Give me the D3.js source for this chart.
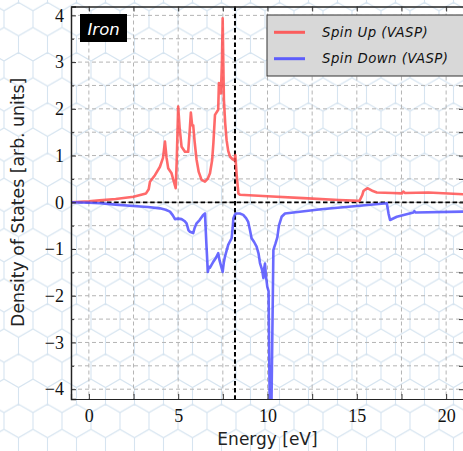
<!DOCTYPE html>
<html>
<head>
<meta charset="utf-8">
<script src="https://cdn.jsdelivr.net/npm/d3@7"></script>
<style>
  body { margin: 0; background: #fff; }
  .axis path { stroke: #222; }
  .axis line { stroke: #333; }
  .axis text { font-family: "Liberation Serif", serif; font-size: 18px; fill: #111; }
</style>
</head>
<body>
<svg id="chart"></svg>
<script>
// DOS of bcc iron, spin resolved

var title = "Iron",
    xlabel = "Energy [eV]",
    ylabel = "Density of States [arb. units]",
    seriesNames = ["Spin Up (VASP)", "Spin Down (VASP)"],
    fermiEnergy = 8.18 ;

var xMajorTicks = [0, 5, 10, 15, 20],
    xMinorTicks = [2.5, 7.5, 12.5, 17.5],
    yMajorTicks = [-4, -3, -2, -1, 0, 1, 2, 3, 4],
    yMinorTicks = [-3.5, -2.5, -1.5, -0.5, 0.5, 1.5, 2.5, 3.5] ;

var energyUp = [-1.0, -0.5, 0.0, 0.6, 1.5, 2.5, 3.2, 3.35, 3.42, 3.7, 3.98, 4.15, 4.26, 4.35, 4.44, 4.63, 4.75, 4.86,
                4.92, 5.0, 5.08, 5.19, 5.38, 5.56, 5.64, 5.71, 5.78, 5.84, 5.92, 6.03, 6.15, 6.31, 6.5, 6.65, 6.78, 6.9,
                6.97, 7.06, 7.24, 7.28, 7.33, 7.39, 7.45, 7.49, 7.53, 7.56, 7.63, 7.71, 7.8, 7.9, 8.05, 8.15, 8.2, 8.27,
                8.37, 8.46, 10.0, 12.0, 14.0, 15.15, 15.3, 15.37, 15.5, 15.62, 15.9, 16.12, 17.0, 17.52, 17.6, 17.7,
                19.0, 21.0] ;
var dosUp = [0.0, 0.01, 0.02, 0.04, 0.07, 0.12, 0.19, 0.28, 0.44, 0.58, 0.76, 0.95, 1.3, 0.95, 0.73, 0.62, 0.45, 0.3,
             0.9, 2.05, 1.6, 1.19, 1.08, 1.08, 1.5, 1.92, 1.65, 1.65, 1.3, 0.91, 0.65, 0.48, 0.44, 0.5, 0.62, 0.9,
             1.26, 1.87, 1.98, 2.55, 2.45, 2.33, 3.0, 3.94, 2.9, 2.19, 1.7, 1.33, 1.1, 0.98, 0.92, 0.9, 1.01, 0.6,
             0.19, 0.16, 0.13, 0.09, 0.05, 0.03, 0.15, 0.24, 0.28, 0.3, 0.24, 0.21, 0.2, 0.19, 0.23, 0.2,
             0.21, 0.17] ;

var energyDown = [-1.0, 0.0, 0.62, 1.5, 2.48, 3.3, 3.98, 4.3, 4.54, 4.7, 4.82, 5.0, 5.19, 5.35, 5.47, 5.58, 5.66, 5.84,
                  5.92, 6.03, 6.2, 6.4, 6.5, 6.58, 6.66, 6.72, 6.78, 6.97, 7.1, 7.24, 7.32, 7.49, 7.55, 7.62, 7.8, 7.99,
                  8.05, 8.09, 8.18, 8.27, 8.45, 8.64, 8.8, 8.92, 9.02, 9.11, 9.25, 9.39, 9.5, 9.58, 9.7, 9.77, 9.82,
                  9.86, 9.92, 9.99, 10.06, 10.14, 10.2, 10.33, 10.45, 10.55, 10.64, 10.79, 10.98, 13.0, 15.0, 16.68,
                  16.78, 16.86, 17.24, 18.17, 18.22, 18.3, 21.0] ;
var dosDown = [0.0, -0.01, -0.02, -0.05, -0.08, -0.1, -0.13, -0.16, -0.2, -0.28, -0.36, -0.35, -0.36, -0.4, -0.45, -0.6,
               -0.63, -0.66, -0.55, -0.45, -0.38, -0.27, -0.24, -0.9, -1.49, -1.38, -1.4, -1.27, -1.2, -1.09, -1.25,
               -1.49, -1.3, -1.16, -0.91, -0.77, -0.55, -0.34, -0.26, -0.24, -0.24, -0.27, -0.34, -0.42, -0.6, -0.77,
               -0.85, -0.95, -1.1, -1.3, -1.45, -1.62, -1.4, -1.31, -1.6, -1.81, -1.9, -5.0, -5.0, -1.02, -0.88,
               -0.75, -0.5, -0.31, -0.24, -0.15, -0.08, -0.02, -0.25, -0.38, -0.31, -0.22, -0.19, -0.22, -0.2] ;

var width = 463,
    height = 451,
    margin = {top: 6.5, right: -1, bottom: 52, left: 71},
    innerwidth = width - margin.left - margin.right,
    innerheight = height - margin.top - margin.bottom ;

var svg = d3.select("#chart")
    .attr("width", width)
    .attr("height", height) ;

//
// honeycomb backdrop
//
var hexW = 29,
    hexR = hexW / Math.sqrt(3) ;

function hexPath(cx, cy) {
    return "M" + d3.range(6).map(function(k) {
        var a = (60 * k - 90) * Math.PI / 180 ;
        return (cx + hexR * Math.cos(a)).toFixed(2) + "," + (cy + hexR * Math.sin(a)).toFixed(2) ;
    }).join("L") + "Z" ;
}

var defs = svg.append("defs") ;
var pattern = defs.append("pattern")
    .attr("id", "honeycomb")
    .attr("patternUnits", "userSpaceOnUse")
    .attr("x", 4)
    .attr("y", -6)
    .attr("width", hexW)
    .attr("height", 3 * hexR) ;
pattern.append("path")
    .attr("d", [[0, 0], [hexW, 0], [hexW / 2, 1.5 * hexR], [0, 3 * hexR], [hexW, 3 * hexR]]
        .map(function(c) { return hexPath(c[0], c[1]); }).join(""))
    .attr("fill", "none")
    .attr("stroke", "#d6e4f0")
    .attr("stroke-width", 1.1) ;

svg.append("rect")
    .attr("width", width)
    .attr("height", height)
    .attr("fill", "url(#honeycomb)") ;

defs.append("clipPath")
    .attr("id", "plotclip")
    .append("rect")
    .attr("width", innerwidth)
    .attr("height", innerheight) ;

var g = svg.append("g")
    .attr("transform", "translate(" + margin.left + "," + margin.top + ")") ;

var x = d3.scaleLinear()
    .domain([-1, 21])
    .range([0, innerwidth]) ;

var y = d3.scaleLinear()
    .domain([-4.21, 4.19])
    .range([innerheight, 0]) ;

//
// dashed grid
//
var grid = g.append("g")
    .attr("stroke", "#b4b4b4")
    .attr("stroke-width", 1)
    .attr("stroke-dasharray", "4,3") ;

grid.selectAll(".vgrid")
    .data(xMajorTicks.concat(xMinorTicks))
    .enter().append("line")
    .attr("class", "vgrid")
    .attr("x1", function(d) { return x(d); })
    .attr("x2", function(d) { return x(d); })
    .attr("y1", 0)
    .attr("y2", innerheight) ;

grid.selectAll(".hgrid")
    .data(yMajorTicks.concat(yMinorTicks))
    .enter().append("line")
    .attr("class", "hgrid")
    .attr("x1", 0)
    .attr("x2", innerwidth)
    .attr("y1", function(d) { return y(d); })
    .attr("y2", function(d) { return y(d); }) ;

// zero line and Fermi level
g.append("line")
    .attr("x1", 0)
    .attr("x2", innerwidth)
    .attr("y1", y(0))
    .attr("y2", y(0))
    .attr("stroke", "#000")
    .attr("stroke-width", 1.8)
    .attr("stroke-dasharray", "4.5,2.7") ;

g.append("line")
    .attr("x1", x(fermiEnergy))
    .attr("x2", x(fermiEnergy))
    .attr("y1", 0)
    .attr("y2", innerheight)
    .attr("stroke", "#000")
    .attr("stroke-width", 2)
    .attr("stroke-dasharray", "4.5,2.7") ;

//
// curves
//
var colors = ["#ff5050", "#5050ff"] ;

var draw_line = d3.line()
    .x(function(d) { return x(d[0]); })
    .y(function(d) { return y(d[1]); }) ;

var curves = [d3.zip(energyUp, dosUp), d3.zip(energyDown, dosDown)] ;

g.append("g")
    .attr("clip-path", "url(#plotclip)")
    .selectAll("path")
    .data(curves)
    .enter().append("path")
    .attr("d", function(d) { return draw_line(d); })
    .attr("fill", "none")
    .attr("stroke", function(_, i) { return colors[i]; })
    .attr("stroke-opacity", 0.85)
    .attr("stroke-width", 2.6)
    .attr("stroke-linejoin", "round") ;

//
// axes: ticks point inward, on all four sides
//
function addAxis(axis, tx, ty, labels) {
    var a = g.append("g")
        .attr("class", "axis")
        .attr("transform", "translate(" + tx + "," + ty + ")")
        .call(axis) ;
    if (!labels) a.selectAll("text").remove() ;
    return a ;
}

addAxis(d3.axisBottom(x).tickValues(xMajorTicks).tickSize(-5).tickPadding(10).tickFormat(d3.format("d")), 0, innerheight, true) ;
addAxis(d3.axisBottom(x).tickValues(xMinorTicks).tickSize(-5).tickSizeOuter(0), 0, innerheight, false) ;
addAxis(d3.axisTop(x).tickValues(xMajorTicks.concat(xMinorTicks)).tickSize(-5).tickSizeOuter(0), 0, 0, false)
    .select(".domain").attr("stroke", "#000").attr("stroke-width", 1.3) ;
addAxis(d3.axisLeft(y).tickValues(yMajorTicks).tickSize(-5).tickPadding(7).tickFormat(d3.format("d")), 0, 0, true)
    .select(".domain").attr("stroke", "#000").attr("stroke-width", 1.3) ;
addAxis(d3.axisLeft(y).tickValues(yMinorTicks).tickSize(-3).tickSizeOuter(0), 0, 0, false) ;
addAxis(d3.axisRight(y).tickValues(yMajorTicks.concat(yMinorTicks)).tickSize(-5).tickSizeOuter(0), innerwidth, 0, false) ;

g.selectAll(".axis .domain").filter(function() { return !this.getAttribute("stroke-width"); })
    .attr("stroke-width", 1.2) ;

// axis labels
svg.append("text")
    .attr("x", margin.left + innerwidth / 2)
    .attr("y", 445)
    .attr("text-anchor", "middle")
    .attr("font-family", "DejaVu Sans, sans-serif")
    .attr("font-size", 17)
    .attr("fill", "#222")
    .text(xlabel) ;

svg.append("text")
    .attr("transform", "translate(24," + (margin.top + y(0)) + ") rotate(-90)")
    .attr("text-anchor", "middle")
    .attr("font-family", "DejaVu Sans, sans-serif")
    .attr("font-size", 17.3)
    .attr("fill", "#222")
    .text(ylabel) ;

//
// title tag
//
svg.append("rect")
    .attr("x", 80)
    .attr("y", 14)
    .attr("width", 47)
    .attr("height", 28)
    .attr("fill", "#000") ;

svg.append("text")
    .attr("x", 87.5)
    .attr("y", 34.5)
    .attr("font-family", "DejaVu Sans, sans-serif")
    .attr("font-style", "italic")
    .attr("font-size", 16.5)
    .attr("fill", "#fff")
    .text(title) ;

//
// legend
//
var legend = svg.append("g")
    .attr("transform", "translate(267,15)") ;

legend.append("rect")
    .attr("width", 210)
    .attr("height", 61)
    .attr("fill", "#d8d8d8")
    .attr("stroke", "#333")
    .attr("stroke-width", 1) ;

var items = legend.selectAll(".item")
    .data(seriesNames)
    .enter().append("g")
    .attr("class", "item")
    .attr("transform", function(_, i) { return "translate(0," + (17.3 + i * 26.4) + ")"; }) ;

items.append("line")
    .attr("x1", 7)
    .attr("x2", 38)
    .attr("stroke", function(_, i) { return colors[i]; })
    .attr("stroke-opacity", 0.9)
    .attr("stroke-width", 3) ;

items.append("text")
    .attr("x", 55)
    .attr("dy", "0.35em")
    .attr("font-family", "DejaVu Sans, sans-serif")
    .attr("font-style", "italic")
    .attr("font-size", 13.3)
    .attr("letter-spacing", 0.45)
    .attr("fill", "#111")
    .text(function(d) { return d; }) ;
</script>
</body>
</html>
